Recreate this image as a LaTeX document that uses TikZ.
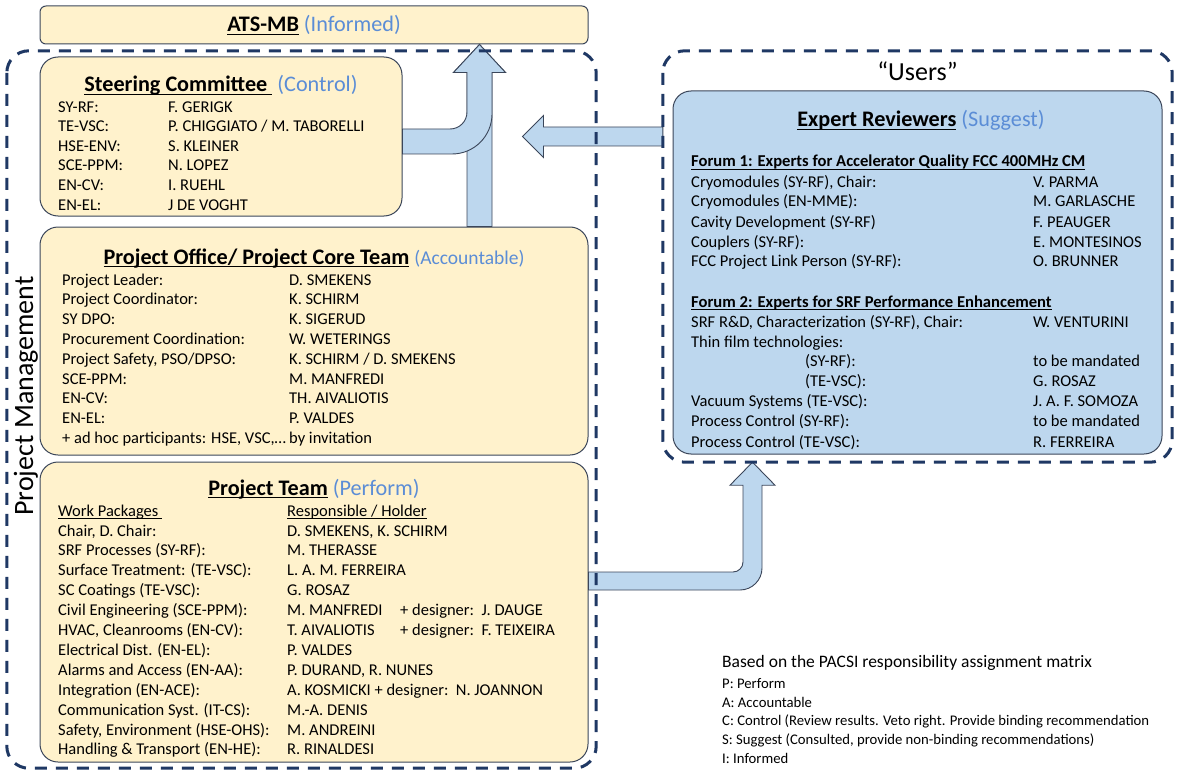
\documentclass[tikz,border=0pt]{standalone}
\usepackage{fontspec}
\setmainfont{Carlito}
\usepackage{xcolor}
\usepackage{tikz}
\usetikzlibrary{calc}
\definecolor{paleyellow}{RGB}{255,242,204}
\definecolor{paleblue}{RGB}{189,215,238}
\definecolor{boxline}{RGB}{59,70,90}
\definecolor{navy}{RGB}{31,56,100}
\definecolor{accent}{RGB}{91,141,214}
% underline at a fixed depth, ignoring descenders
\newcommand{\ulin}[1]{\leavevmode\vtop{\hbox{\raisebox{0pt}[\height][0pt]{#1}}\kern2pt\hrule height 1.1pt}}

\begin{document}
\begin{tikzpicture}[x=1pt,y=-1pt,
          grpbox/.style={draw=navy,line width=3pt,dash pattern=on 12pt off 9pt,
                         rounded corners=22pt},
          card/.style={draw=boxline,line width=1pt,fill=paleyellow,
                       rounded corners=18pt,inner sep=0pt},
          fat/.style={draw=boxline,line width=0.9pt,fill=paleblue},
          ttl/.style={anchor=base,inner sep=0pt,font=\fontsize{22.2}{27}\selectfont},
          row/.style={anchor=base west,inner sep=0pt,font=\fontsize{16.5}{20}\selectfont},
          forum/.style={anchor=base west,inner sep=0pt,font=\fontsize{16.6}{20}\selectfont\bfseries},
          key/.style={anchor=base west,inner sep=0pt,font=\fontsize{14.7}{18}\selectfont}]
        \useasboundingbox (0,0) rectangle (1181,773);
        % boxes
        \node[card,rounded corners=6pt,minimum width=548pt,minimum height=38pt] (ats) at (314,25) {};
        \node[card,minimum width=362pt,minimum height=159pt] (steer) at (221,136.5) {};
        \node[card,minimum width=548pt,minimum height=228pt] (office) at (314,341) {};
        \node[card,minimum width=548pt,minimum height=300pt] (team) at (314,612) {};
        \node[card,fill=paleblue,minimum width=489pt,minimum height=363pt] (expert) at (917.5,272.5) {};
        \node[inner sep=0pt,minimum width=589pt,minimum height=717pt] (pm) at (301.5,409.5) {};
        \node[inner sep=0pt,minimum width=509pt,minimum height=411pt] (users) at (917.5,256.5) {};
        % arrow up to ATS-MB
        \coordinate (tipA) at ([xshift=165.5pt]ats.south);
        \coordinate (footA) at (tipA |- office.north);
        \coordinate (bandA) at ([yshift=-5pt]steer.east);
        \coordinate (kneeA) at (tipA |- bandA);
        \draw[fat] ($(footA)+(-12.5,0)$) -- ($(tipA)+(-12.5,28)$) -- ($(tipA)+(-26,28)$)
          -- (tipA) -- ($(tipA)+(26,28)$) -- ($(tipA)+(12.5,28)$) -- ($(footA)+(12.5,0)$) -- cycle;
        \draw[fat] ($(bandA)+(0,-12.5)$) -- ($(kneeA)+(-29.5,-12.5)$)
          .. controls ($(kneeA)+(-20.1,-12.5)$) and ($(kneeA)+(-12.5,-20.1)$) .. ($(kneeA)+(-12.5,-29.5)$)
          -- ($(tipA)+(-12.5,28)$) -- ($(tipA)+(-26,28)$) -- (tipA) -- ($(tipA)+(26,28)$)
          -- ($(tipA)+(12.5,28)$) -- ($(kneeA)+(12.5,-27.5)$)
          .. controls ($(kneeA)+(12.5,-5.4)$) and ($(kneeA)+(-5.4,12.5)$) .. ($(kneeA)+(-27.5,12.5)$)
          -- ($(bandA)+(0,12.5)$) -- cycle;
        % arrow from the users
        \coordinate (tipB) at ([xshift=120pt]steer.east);
        \coordinate (tailB) at (tipB -| users.west);
        \draw[fat] (tipB) -- ($(tipB)+(21,-21)$) -- ($(tipB)+(21,-9.5)$) -- ($(tailB)+(0,-9.5)$)
          -- ($(tailB)+(0,9.5)$) -- ($(tipB)+(21,9.5)$) -- ($(tipB)+(21,21)$) -- cycle;
        % arrow to the users
        \coordinate (tipC) at ([xshift=-165pt]users.south);
        \coordinate (bandC) at ([yshift=31pt]team.east);
        \coordinate (kneeC) at (tipC |- bandC);
        \draw[fat] ($(bandC)+(0,-9)$) -- ($(kneeC)+(-19.5,-9)$)
          .. controls ($(kneeC)+(-14,-9)$) and ($(kneeC)+(-9.5,-13.5)$) .. ($(kneeC)+(-9.5,-19)$)
          -- ($(tipC)+(-9.5,23)$) -- ($(tipC)+(-22.5,23)$) -- (tipC) -- ($(tipC)+(22.5,23)$)
          -- ($(tipC)+(9.5,23)$) -- ($(kneeC)+(9.5,-13)$)
          .. controls ($(kneeC)+(9.5,-0.9)$) and ($(kneeC)+(-0.4,9)$) .. ($(kneeC)+(-12.5,9)$)
          -- ($(bandC)+(0,9)$) -- cycle;
        % dashed groups
        \draw[grpbox] (pm.north west) rectangle (pm.south east);
        \draw[grpbox] (users.north west) rectangle (users.south east);
        \node[rotate=90,anchor=base,inner sep=0pt,font=\fontsize{28}{34}\selectfont] (pmT) at (33,396) {Project Management};
        \node[ttl,font=\fontsize{26}{31}\selectfont] (usT) at (917.5,81) {“Users”};
        % titles
        \node[ttl] (atsT) at (314,32) {\ulin{\textbf{ATS-MB}} {\color{accent}(Informed)}};
        \node[ttl] (scT) at (221,92) {\ulin{\textbf{Steering Committee\ }}\ {\color{accent}(Control)}};
        \node[ttl] (poT) at (314,264) {\ulin{\textbf{Project Office/ Project Core Team}} {\color{accent}\fontsize{19.5}{23}\selectfont(Accountable)}};
        \node[ttl] (tmT) at (314,495) {\ulin{\textbf{Project Team}} {\color{accent}(Perform)}};
        \node[ttl] (erT) at (921,127) {\ulin{\textbf{Expert Reviewers}} {\color{accent}(Suggest)}};
        % steering committee
        \node[row] (sc1) at (58,112.5) {SY-RF:};     \node[row] (sc1n) at (168,112.5) {F. GERIGK};
        \node[row] (sc2) at (58,132)   {TE-VSC:};    \node[row] (sc2n) at (168,132)   {P. CHIGGIATO / M. TABORELLI};
        \node[row] (sc3) at (58,151.5) {HSE-ENV:};   \node[row] (sc3n) at (168,151.5) {S. KLEINER};
        \node[row] (sc4) at (58,171)   {SCE-PPM:};   \node[row] (sc4n) at (168,171)   {N. LOPEZ};
        \node[row] (sc5) at (58,190.5) {EN-CV:};     \node[row] (sc5n) at (168,190.5) {I. RUEHL};
        \node[row] (sc6) at (58,210)   {EN-EL:};     \node[row] (sc6n) at (168,210)   {J DE VOGHT};
        % project office
        \node[row] (po1) at (62,285)   {Project Leader:};           \node[row] (po1n) at (289,285)   {D. SMEKENS};
        \node[row] (po2) at (62,304.8) {Project Coordinator:};      \node[row] (po2n) at (289,304.8) {K. SCHIRM};
        \node[row] (po3) at (62,324.6) {SY DPO:};                   \node[row] (po3n) at (289,324.6) {K. SIGERUD};
        \node[row] (po4) at (62,344.4) {Procurement Coordination:}; \node[row] (po4n) at (289,344.4) {W. WETERINGS};
        \node[row] (po5) at (62,364.2) {Project Safety, PSO/DPSO:}; \node[row] (po5n) at (289,364.2) {K. SCHIRM / D. SMEKENS};
        \node[row] (po6) at (62,384)   {SCE-PPM:};                  \node[row] (po6n) at (289,384)   {M. MANFREDI};
        \node[row] (po7) at (62,403.8) {EN-CV:};                    \node[row] (po7n) at (289,403.8) {TH. AIVALIOTIS};
        \node[row] (po8) at (62,423.6) {EN-EL:};                    \node[row] (po8n) at (289,423.6) {P. VALDES};
        \node[row] (po9) at (62,443.4) {+ ad hoc participants: HSE, VSC,…}; \node[row] (po9n) at (289,443.4) {by invitation};
        % project team
        \node[row] (tmH)  at (58,516)  {\ulin{Work Packages\ }};
        \node[row] (tmHn) at (287,516) {\ulin{Responsible / Holder}};
        \node[row] (tm1)  at (58,536)   {Chair, D. Chair:};               \node[row] (tm1n)  at (287,536)   {D. SMEKENS, K. SCHIRM};
        \node[row] (tm2)  at (58,555.9) {SRF Processes (SY-RF):};         \node[row] (tm2n)  at (287,555.9) {M. THERASSE};
        \node[row] (tm3)  at (58,575.8) {Surface Treatment: (TE-VSC):};   \node[row] (tm3n)  at (287,575.8) {L. A. M. FERREIRA};
        \node[row] (tm4)  at (58,595.7) {SC Coatings (TE-VSC):};          \node[row] (tm4n)  at (287,595.7) {G. ROSAZ};
        \node[row] (tm5)  at (58,615.6) {Civil Engineering (SCE-PPM):};   \node[row] (tm5n)  at (287,615.6) {M. MANFREDI};
        \node[row] (tm6)  at (58,635.5) {HVAC, Cleanrooms (EN-CV):};      \node[row] (tm6n)  at (287,635.5) {T. AIVALIOTIS};
        \node[row] (tm7)  at (58,655.4) {Electrical Dist. (EN-EL):};      \node[row] (tm7n)  at (287,655.4) {P. VALDES};
        \node[row] (tm8)  at (58,675.3) {Alarms and Access (EN-AA):};     \node[row] (tm8n)  at (287,675.3) {P. DURAND, R. NUNES};
        \node[row] (tm9)  at (58,695.2) {Integration (EN-ACE):};          \node[row] (tm9n)  at (287,695.2) {A. KOSMICKI + designer:\ \ N. JOANNON};
        \node[row] (tm10) at (58,715.1) {Communication Syst. (IT-CS):};   \node[row] (tm10n) at (287,715.1) {M.-A. DENIS};
        \node[row] (tm11) at (58,735)   {Safety, Environment (HSE-OHS):}; \node[row] (tm11n) at (287,735)   {M. ANDREINI};
        \node[row] (tm12) at (58,754.9) {Handling \& Transport (EN-HE):}; \node[row] (tm12n) at (287,754.9) {R. RINALDESI};
        \node[row] (tm5d) at (400,615.6) {+ designer:\ \ J. DAUGE};
        \node[row] (tm6d) at (400,635.5) {+ designer:\ \ F. TEIXEIRA};
        % forum 1
        \node[forum] (f1) at (691,167) {\ulin{Forum 1: Experts for Accelerator Quality FCC 400MHz CM}};
        \node[row] (f1a) at (691,187) {Cryomodules (SY-RF), Chair:};      \node[row] (f1an) at (1033,187) {V. PARMA};
        \node[row] (f1b) at (691,207) {Cryomodules (EN-MME):};            \node[row] (f1bn) at (1033,207) {M. GARLASCHE};
        \node[row] (f1c) at (691,227) {Cavity Development (SY-RF)};       \node[row] (f1cn) at (1033,227) {F. PEAUGER};
        \node[row] (f1d) at (691,247) {Couplers (SY-RF):};                \node[row] (f1dn) at (1033,247) {E. MONTESINOS};
        \node[row] (f1e) at (691,266) {FCC Project Link Person (SY-RF):}; \node[row] (f1en) at (1033,266) {O. BRUNNER};
        % forum 2
        \node[forum] (f2) at (691,307) {\ulin{Forum 2: Experts for SRF Performance Enhancement}};
        \node[row] (f2a) at (691,327) {SRF R\&D, Characterization (SY-RF), Chair:}; \node[row] (f2an) at (1033,327) {W. VENTURINI};
        \node[row] (f2b) at (691,347) {Thin film technologies:};
        \node[row] (f2c) at (805,366) {(SY-RF):};                    \node[row] (f2cn) at (1033,366) {to be mandated};
        \node[row] (f2d) at (805,386) {(TE-VSC):};                   \node[row] (f2dn) at (1033,386) {G. ROSAZ};
        \node[row] (f2e) at (691,406) {Vacuum Systems (TE-VSC):};    \node[row] (f2en) at (1033,406) {J. A. F. SOMOZA};
        \node[row] (f2f) at (691,426) {Process Control (SY-RF):};    \node[row] (f2fn) at (1033,426) {to be mandated};
        \node[row] (f2g) at (691,447) {Process Control (TE-VSC):};   \node[row] (f2gn) at (1033,447) {R. FERREIRA};
        % PACSI key
        \node[row,font=\fontsize{17.5}{21}\selectfont] (keyT) at (722,667.5) {Based on the PACSI responsibility assignment matrix};
        \node[key] (keyP) at (722,688) {P: Perform};
        \node[key] (keyA) at (722,707) {A: Accountable};
        \node[key] (keyC) at (722,725.5) {C: Control (Review results. Veto right. Provide binding recommendation};
        \node[key] (keyS) at (722,744.5) {S: Suggest (Consulted, provide non-binding recommendations)};
        \node[key] (keyI) at (722,763.5) {I: Informed};
      \end{tikzpicture}
\end{document}
